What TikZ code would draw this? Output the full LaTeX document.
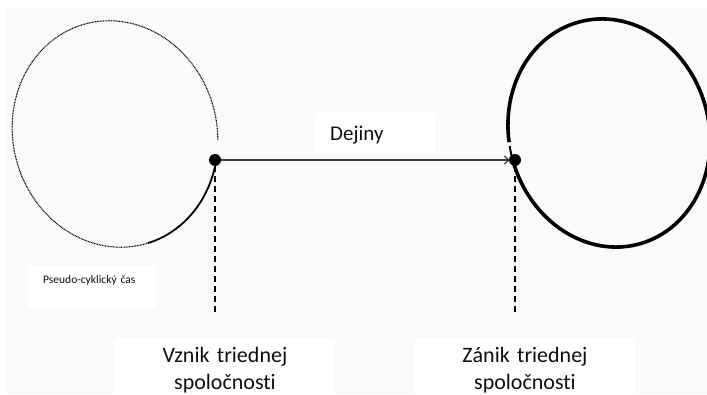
\documentclass[tikz,border=0pt]{standalone}
\usepackage{fontspec}
\setmainfont{Carlito}[Ligatures={NoCommon}]
\usetikzlibrary{arrows.meta}
\definecolor{bgcol}{RGB}{250,250,250}
\definecolor{txtcol}{RGB}{15,15,15}
\tikzset{
  whitebox/.style={fill=white, inner sep=0pt, text=txtcol},
  dotnode/.style={circle, fill=black, inner sep=0pt, minimum size=12pt},
  histarrow/.style={draw=black!78, line width=1.6pt, -{Straight Barb[length=4.5pt,width=8pt,line width=1.2pt]}, shorten >=-1pt},
  dropline/.style={draw=black, line width=1.3pt, dash pattern=on 6pt off 4pt},
  dottedarc/.style={draw=black, line width=1.1pt, dash pattern=on 0.9pt off 0.7pt},
  solidarc/.style={draw=black, line width=1.8pt},
  thickring/.style={draw=black, line width=3.6pt},
  thinring/.style={draw=black, line width=2pt}
}
\begin{document}
\begin{tikzpicture}[x=1pt,y=1pt]
\useasboundingbox (0,0) rectangle (707,394);
\fill[bgcol] (7,0) rectangle (707,387);

% left ellipse (pseudo-cyclic time)
\begin{scope}[shift={(115,260)}, rotate=15]
  \draw[dottedarc] (-16.6:102 and 114) arc[start angle=-16.6, end angle=272, x radius=102, y radius=114];
  \draw[solidarc] (272:102 and 114) arc[start angle=272, end angle=333, x radius=102, y radius=114];
\end{scope}

% right ellipse
\begin{scope}[shift={(609,261)}, rotate=15]
  \draw[thickring] (181:100 and 115) arc[start angle=181, end angle=531.5, x radius=100, y radius=115];
  \draw[thinring] (173.5:100 and 115) arc[start angle=173.5, end angle=181, x radius=100, y radius=115];
\end{scope}

% dots
\node[dotnode] (A) at (215,234) {};
\node[dotnode] (B) at (515,234) {};

% arrow
\draw[histarrow] (A) -- (B);

% dashed drop lines
\coordinate (A0) at (215,79);
\coordinate (B0) at (515,79);
\draw[dropline] (A) -- (A0);
\draw[dropline] (B) -- (B0);

% labels
\node[whitebox, anchor=north west, inner xsep=15pt, text width=90pt, align=left,
      font=\fontsize{21pt}{25pt}\selectfont] (dejiny) at (315,281)
  {\rule[-12pt]{0pt}{39pt}Dejiny};

\node[whitebox, anchor=north west, inner xsep=15pt, text width=98pt, align=left,
      font=\fontsize{11.5pt}{14pt}\selectfont] (pseudo) at (28,128)
  {\rule[-25pt]{0pt}{42pt}Pseudo-cyklický čas};

\node[whitebox, anchor=north, text width=220pt, align=center,
      font=\fontsize{22pt}{26.5pt}\selectfont] (vznik) at (225,56)
  {\rule{0pt}{24.5pt}Vznik triednej\\spoločnosti\rule[-12pt]{0pt}{12pt}};

\node[whitebox, anchor=north, text width=220pt, align=center,
      font=\fontsize{22pt}{26.5pt}\selectfont] (zanik) at (525,56)
  {\rule{0pt}{24.5pt}Zánik triednej\\spoločnosti\rule[-12pt]{0pt}{12pt}};
\end{tikzpicture}
\end{document}
